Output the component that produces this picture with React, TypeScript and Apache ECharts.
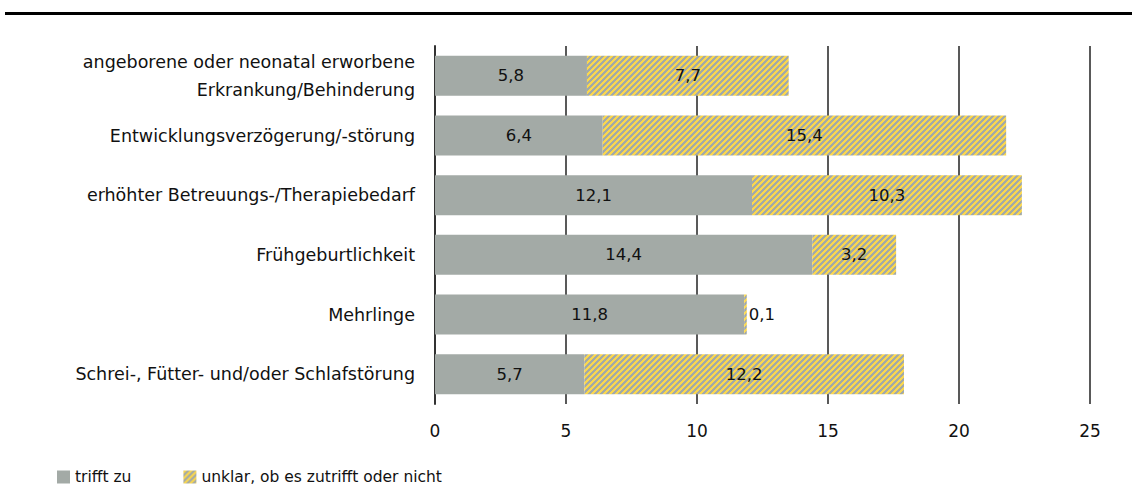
import React, { useEffect, useRef } from "react";
import * as echarts from "echarts";

const categories = [
  "angeborene oder neonatal erworbene\nErkrankung/Behinderung",
  "Entwicklungsverzögerung/-störung",
  "erhöhter Betreuungs-/Therapiebedarf",
  "Frühgeburtlichkeit",
  "Mehrlinge",
  "Schrei-, Fütter- und/oder Schlafstörung",
];
const trifftZu = [5.8, 6.4, 12.1, 14.4, 11.8, 5.7];
const unklar = [7.7, 15.4, 10.3, 3.2, 0.1, 12.2];
const seriesNames = ["trifft zu", "unklar, ob es zutrifft oder nicht"];
const xTicks = [0, 5, 10, 15, 20, 25];

const GRAY = "#a3aaa6";
const YELLOW = "#f9d64f";
const FONT = "DejaVu Sans";

function makePattern(): HTMLCanvasElement {
  const n = 6;
  const c = document.createElement("canvas");
  c.width = n;
  c.height = n;
  const ctx = c.getContext("2d")!;
  for (let x = 0; x < n; x++) {
    for (let y = 0; y < n; y++) {
      ctx.fillStyle = (x + y) % n < 3 ? YELLOW : GRAY;
      ctx.fillRect(x, y, 1, 1);
    }
  }
  return c;
}

const fmt = (v: number) => v.toFixed(1).replace(".", ",");

export default function App() {
  const ref = useRef<HTMLDivElement>(null);
  useEffect(() => {
    if (!ref.current) return;
    const chart = echarts.init(ref.current, null, { renderer: "svg" });
    const pattern = { image: makePattern(), repeat: "repeat" as const };
    chart.setOption({
      animation: false,
      textStyle: { fontFamily: FONT },
      graphic: [
        { type: "rect", left: 5, top: 12, shape: { width: 1127, height: 3 }, style: { fill: "#000" } },
      ],
      grid: { left: 435, right: 47, top: 46, bottom: 82, containLabel: false },
      legend: {
        left: 57,
        top: 469,
        padding: 0,
        itemWidth: 13,
        itemHeight: 13,
        itemGap: 52,
        icon: "rect",
        textStyle: { fontFamily: FONT, fontSize: 15.5, color: "#111" },
        data: seriesNames,
      },
      xAxis: {
        type: "value",
        min: 0,
        max: 25,
        interval: 5,
        axisLine: { show: false },
        axisTick: { show: false },
        splitLine: { show: true, lineStyle: { color: "#222", width: 1.5 } },
        axisLabel: {
          fontFamily: FONT,
          fontSize: 17,
          color: "#111",
          margin: 18,
          formatter: (v: number) => (xTicks.includes(v) ? String(v) : ""),
        },
      },
      yAxis: {
        type: "category",
        inverse: true,
        data: categories,
        axisLine: { show: true, lineStyle: { color: "#333", width: 2 } },
        axisTick: { show: false },
        axisLabel: {
          fontFamily: FONT,
          fontSize: 17.5,
          color: "#111",
          margin: 20,
          lineHeight: 28,
          align: "right",
        },
      },
      series: [
        {
          name: seriesNames[0],
          type: "bar",
          stack: "s",
          barWidth: 40,
          data: trifftZu,
          itemStyle: { color: GRAY },
          label: {
            show: true,
            position: "inside",
            fontFamily: FONT,
            fontSize: 16.5,
            color: "#111",
            formatter: (p: any) => fmt(p.value),
          },
        },
        {
          name: seriesNames[1],
          type: "bar",
          stack: "s",
          barWidth: 40,
          data: unklar.map((v) =>
            v < 1
              ? { value: v, label: { position: "right", distance: 2 } }
              : { value: v }
          ),
          itemStyle: { color: pattern },
          label: {
            show: true,
            position: "inside",
            fontFamily: FONT,
            fontSize: 16.5,
            color: "#111",
            formatter: (p: any) => fmt(p.value),
          },
        },
      ],
    });
    return () => chart.dispose();
  }, []);
  return (
    <div
      ref={ref}
      style={{ position: "fixed", left: 0, top: 0, width: 1137, height: 486, background: "#fff" }}
    />
  );
}
